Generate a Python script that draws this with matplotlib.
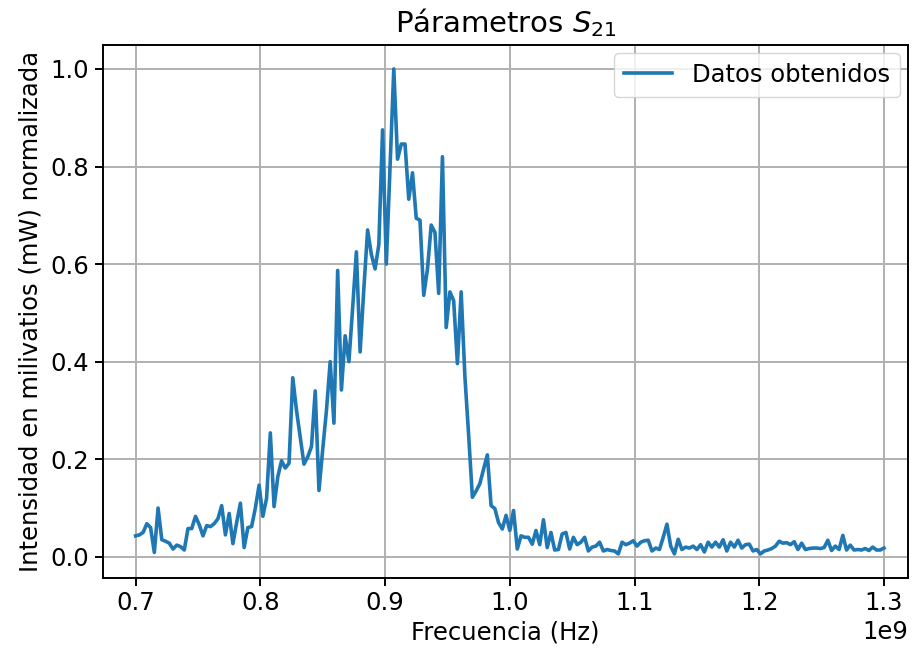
import numpy as np
import matplotlib
matplotlib.use("Agg")
import matplotlib.pyplot as plt

# Frequency sweep: 201 samples from 0.7 GHz to 1.3 GHz (3 MHz step)
f_start_hz = 0.7e9
f_stop_hz = 1.3e9
n_samples = 201

# Normalised S21 power readings (mW / max)
s21_norm = [
    0.043, 0.045, 0.050, 0.068, 0.060, 0.009, 0.100, 0.035, 0.032, 0.028,
    0.016, 0.024, 0.021, 0.014, 0.058, 0.058, 0.083, 0.066, 0.043, 0.064,
    0.062, 0.068, 0.078, 0.105, 0.045, 0.089, 0.027, 0.070, 0.110, 0.019,
    0.060, 0.062, 0.100, 0.147, 0.083, 0.120, 0.254, 0.103, 0.164, 0.197,
    0.182, 0.192, 0.367, 0.300, 0.245, 0.190, 0.205, 0.226, 0.340, 0.136,
    0.220, 0.300, 0.400, 0.274, 0.587, 0.342, 0.453, 0.400, 0.510, 0.625,
    0.420, 0.550, 0.670, 0.620, 0.590, 0.640, 0.875, 0.600, 0.800, 1.000,
    0.815, 0.846, 0.846, 0.733, 0.787, 0.694, 0.690, 0.536, 0.590, 0.680,
    0.665, 0.540, 0.820, 0.470, 0.543, 0.525, 0.396, 0.543, 0.370, 0.250,
    0.122, 0.135, 0.150, 0.180, 0.209, 0.105, 0.099, 0.070, 0.057, 0.085,
    0.054, 0.095, 0.016, 0.043, 0.040, 0.040, 0.026, 0.054, 0.025, 0.076,
    0.019, 0.050, 0.014, 0.015, 0.047, 0.050, 0.016, 0.040, 0.025, 0.030,
    0.040, 0.012, 0.020, 0.022, 0.030, 0.012, 0.015, 0.013, 0.012, 0.006,
    0.030, 0.025, 0.028, 0.033, 0.022, 0.030, 0.033, 0.034, 0.012, 0.018,
    0.015, 0.040, 0.067, 0.022, 0.006, 0.036, 0.015, 0.020, 0.018, 0.022,
    0.015, 0.025, 0.010, 0.030, 0.020, 0.030, 0.020, 0.035, 0.012, 0.030,
    0.020, 0.034, 0.018, 0.025, 0.026, 0.012, 0.015, 0.006, 0.012, 0.014,
    0.017, 0.022, 0.032, 0.028, 0.029, 0.025, 0.031, 0.015, 0.028, 0.015,
    0.017, 0.018, 0.018, 0.017, 0.019, 0.034, 0.013, 0.022, 0.015, 0.044,
    0.014, 0.024, 0.014, 0.015, 0.014, 0.017, 0.013, 0.020, 0.014, 0.014,
    0.018,
]

freq = np.linspace(f_start_hz, f_stop_hz, n_samples)

fs = 17.5
plt.rcParams["font.family"] = ["DejaVu Sans"]
fig = plt.figure(figsize=(9.24, 6.57), dpi=100)
ax = fig.add_axes([0.111, 0.120, 0.872, 0.812])

ax.plot(freq, s21_norm, color="#1f77b4", linewidth=2.6, label="Datos obtenidos")

ax.set_xlim(0.6735e9, 1.3195e9)
ax.set_title(r"Párametros $S_{21}$", fontsize=fs * 1.2, pad=9)
ax.set_xlabel("Frecuencia (Hz)", fontsize=fs, labelpad=4)
ax.set_ylabel("Intensidad en milivatios (mW) normalizada", fontsize=fs, labelpad=6)
ax.tick_params(labelsize=fs, width=1.4, length=6)
ax.xaxis.get_offset_text().set_fontsize(fs)
ax.grid(True, color="#b0b0b0", linewidth=1.4)
for sp in ax.spines.values():
    sp.set_linewidth(1.4)
ax.legend(loc="upper right", fontsize=fs, borderaxespad=0.35)

fig.savefig("out.png", dpi=100)
